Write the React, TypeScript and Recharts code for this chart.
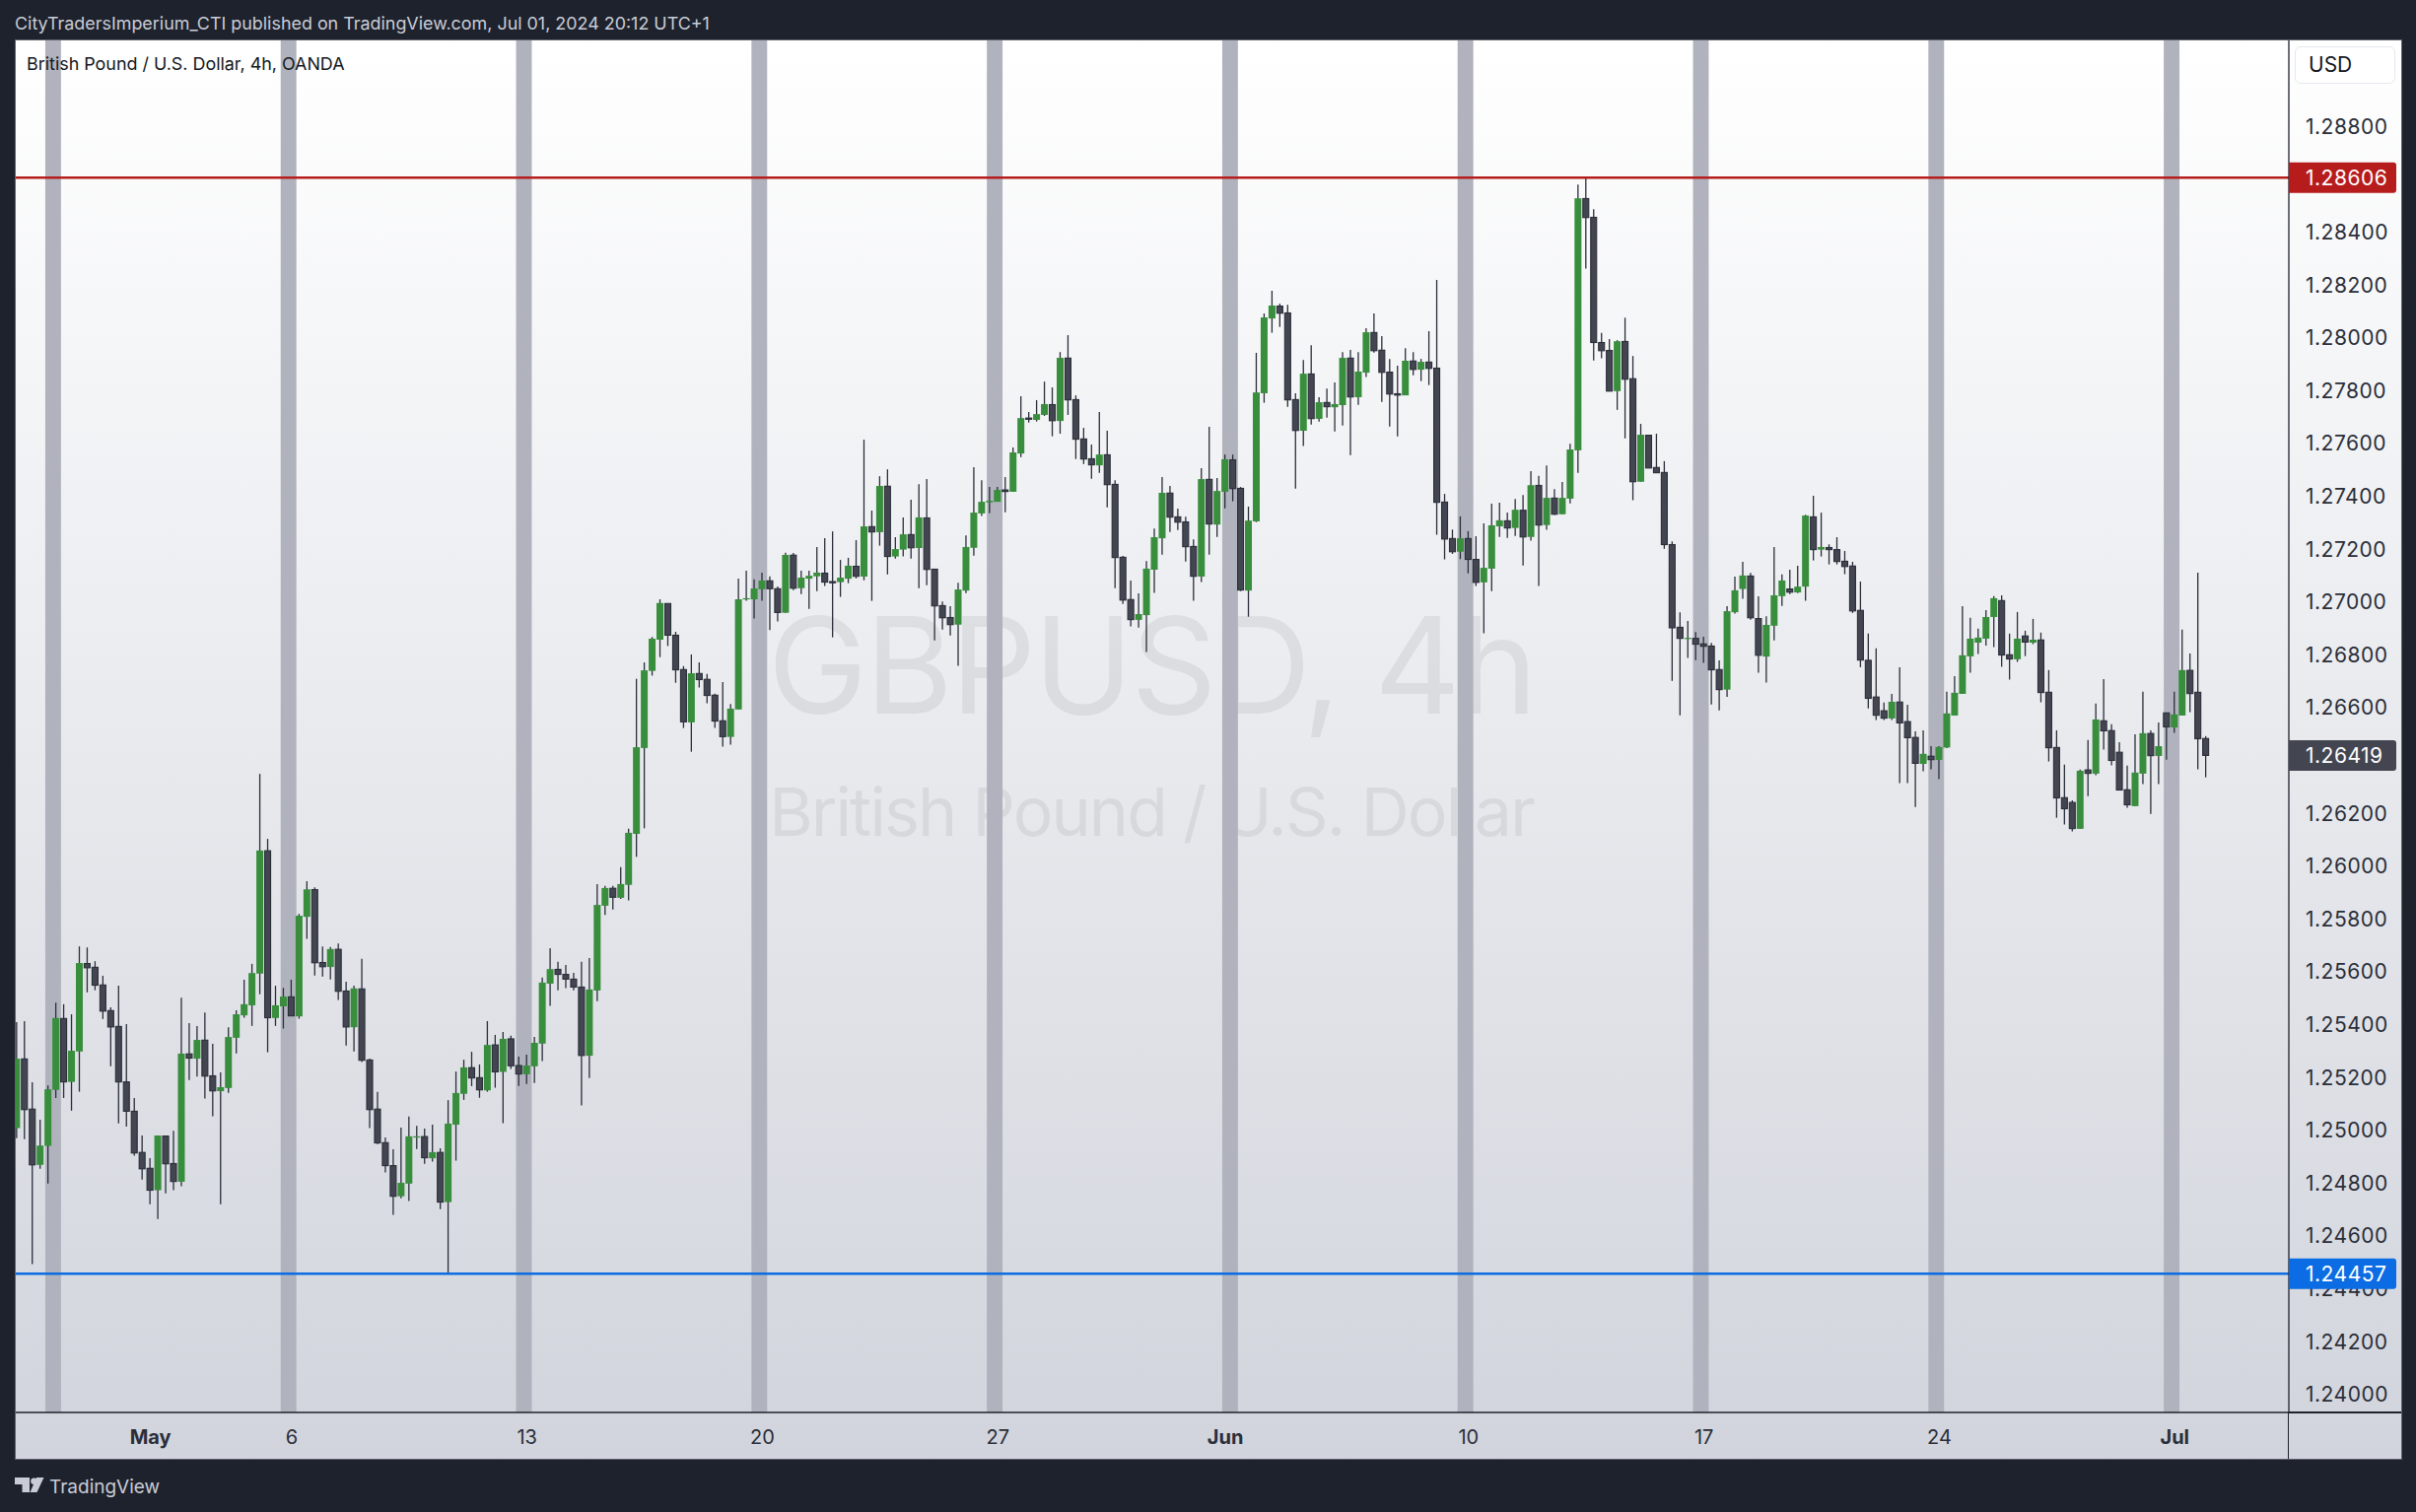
import React from 'react';
import { Bar, ComposedChart, ReferenceArea, ReferenceLine, XAxis, YAxis } from 'recharts';

// GBPUSD 4h candles, prices in 1e-5 units
const opens = [
  125008, 125270, 125080, 124869, 124941, 125153, 125423, 125183, 125298, 125631,
  125617, 125550, 125453, 125393, 125183, 125072, 124916, 124856, 124773, 124978,
  124874, 124805, 125289, 125271, 125341, 125206, 125148, 125160, 125350, 125435,
  125473, 125593, 126058, 125425, 125469, 125505, 125431, 125808, 125911, 125635,
  125618, 125685, 125527, 125390, 125535, 125266, 125080, 124953, 124866, 124750,
  124798, 124973, 124976, 124894, 124916, 124728, 125021, 125138, 125237, 125199,
  125151, 125323, 125221, 125346, 125245, 125212, 125242, 125328, 125555, 125609,
  125590, 125572, 125542, 125282, 125529, 125850, 125916, 125880, 125929, 126122,
  126447, 126739, 126857, 126994, 126874, 126744, 126544, 126729, 126707, 126647,
  126550, 126489, 126593, 127010, 127010, 127048, 127080, 127050, 126959, 127177,
  127052, 127088, 127097, 127109, 127077, 127075, 127088, 127135, 127096, 127285,
  127264, 127438, 127172, 127198, 127255, 127204, 127318, 127124, 126986, 126941,
  126914, 127043, 127205, 127335, 127377, 127379, 127424, 127417, 127562, 127696,
  127689, 127708, 127747, 127685, 127923, 127766, 127617, 127542, 127517, 127557,
  127445, 127169, 127009, 126932, 126950, 127122, 127241, 127412, 127322, 127303,
  127210, 127096, 127464, 127293, 127417, 127538, 127430, 127043, 127305, 127790,
  128073, 128120, 128094, 127766, 127648, 127863, 127693, 127755, 127737, 127745,
  127923, 127775, 127868, 128020, 127953, 127870, 127788, 127782, 127912, 127879,
  127908, 127885, 127378, 127240, 127190, 127240, 127161, 127074, 127126, 127286,
  127307, 127280, 127347, 127246, 127441, 127291, 127393, 127332, 127391, 127574,
  128527, 128456, 127982, 127952, 127798, 127986, 127845, 127455, 127631, 127509,
  127490, 127217, 126904, 126861, 126862, 126841, 126833, 126744, 126668, 126961,
  127049, 127098, 126937, 126793, 126910, 127022, 127049, 127036, 127058, 127322,
  127198, 127206, 127198, 127154, 127136, 126968, 126779, 126640, 126588, 126559,
  126621, 126547, 126487, 126387, 126416, 126402, 126449, 126570, 126652, 126794,
  126846, 126861, 126943, 127005, 126800, 126783, 126871, 126846, 126856, 126658,
  126449, 126259, 126241, 126141, 126364, 126350, 126550, 126513, 126431, 126289,
  126227, 126350, 126502, 126417, 126580, 126525, 126570, 126741, 126658, 126483,
];

const closes = [
  125271, 125078, 124869, 124942, 125155, 125425, 125183, 125301, 125633, 125615,
  125549, 125451, 125391, 125183, 125072, 124914, 124854, 124773, 124980, 124873,
  124806, 125290, 125273, 125342, 125205, 125149, 125163, 125353, 125439, 125477,
  125595, 126059, 125426, 125473, 125506, 125433, 125812, 125912, 125634, 125619,
  125686, 125526, 125391, 125537, 125265, 125078, 124952, 124866, 124750, 124801,
  124977, 124977, 124896, 124917, 124728, 125025, 125141, 125238, 125198, 125153,
  125323, 125221, 125346, 125244, 125213, 125245, 125331, 125559, 125610, 125590,
  125572, 125542, 125283, 125533, 125853, 125917, 125882, 125932, 126126, 126450,
  126741, 126861, 126996, 126874, 126743, 126546, 126730, 126706, 126646, 126549,
  126490, 126596, 127010, 127014, 127051, 127081, 127050, 126960, 127178, 127052,
  127092, 127099, 127111, 127075, 127075, 127092, 127137, 127097, 127286, 127265,
  127439, 127172, 127200, 127256, 127205, 127320, 127123, 126985, 126940, 126914,
  127047, 127208, 127338, 127379, 127383, 127424, 127418, 127566, 127696, 127694,
  127711, 127749, 127686, 127924, 127765, 127616, 127541, 127519, 127558, 127444,
  127168, 127007, 126933, 126954, 127126, 127245, 127413, 127321, 127302, 127209,
  127097, 127465, 127295, 127420, 127540, 127429, 127045, 127308, 127793, 128077,
  128122, 128093, 127765, 127649, 127864, 127694, 127756, 127739, 127749, 127924,
  127776, 127872, 128021, 127951, 127869, 127787, 127783, 127913, 127880, 127909,
  127884, 127377, 127238, 127190, 127241, 127161, 127074, 127129, 127290, 127309,
  127280, 127349, 127246, 127442, 127291, 127394, 127332, 127394, 127577, 128528,
  128455, 127982, 127951, 127798, 127987, 127843, 127455, 127633, 127507, 127489,
  127217, 126902, 126862, 126864, 126840, 126832, 126743, 126668, 126965, 127044,
  127100, 126940, 126798, 126913, 127025, 127081, 127037, 127058, 127327, 127198,
  127208, 127198, 127153, 127134, 126966, 126780, 126635, 126571, 126560, 126622,
  126542, 126486, 126389, 126425, 126403, 126451, 126578, 126656, 126798, 126861,
  126865, 126943, 127014, 126799, 126784, 126861, 126848, 126857, 126657, 126448,
  126258, 126217, 126142, 126361, 126351, 126555, 126512, 126400, 126288, 126232,
  126354, 126503, 126418, 126454, 126527, 126574, 126742, 126653, 126482, 126419,
];

const highs = [
  125409, 125413, 125182, 125040, 125170, 125483, 125477, 125439, 125696, 125692,
  125640, 125585, 125465, 125547, 125402, 125122, 124980, 124894, 124980, 124978,
  124998, 125502, 125406, 125394, 125446, 125327, 125219, 125390, 125454, 125570,
  125630, 126349, 126103, 125547, 125539, 125570, 125819, 125943, 125920, 125696,
  125694, 125707, 125562, 125547, 125649, 125271, 125145, 124973, 124928, 125010,
  125052, 125017, 125006, 125021, 124932, 125114, 125222, 125267, 125297, 125249,
  125413, 125361, 125372, 125358, 125279, 125286, 125353, 125578, 125689, 125638,
  125626, 125596, 125638, 125652, 125932, 125925, 125925, 125996, 126142, 126709,
  126771, 126867, 127010, 126994, 126887, 126757, 126801, 126771, 126727, 126653,
  126697, 126614, 127088, 127118, 127086, 127111, 127097, 127059, 127186, 127185,
  127118, 127118, 127208, 127241, 127267, 127159, 127167, 127234, 127614, 127346,
  127476, 127502, 127245, 127320, 127387, 127446, 127465, 127124, 127002, 126984,
  127073, 127252, 127510, 127461, 127435, 127435, 127473, 127585, 127779, 127719,
  127764, 127834, 127812, 127946, 128010, 127782, 127659, 127596, 127719, 127648,
  127461, 127174, 127081, 127032, 127155, 127278, 127473, 127439, 127353, 127323,
  127237, 127506, 127663, 127469, 127558, 127558, 127435, 127361, 127943, 128092,
  128178, 128129, 128125, 127790, 127916, 127972, 127775, 127808, 127831, 127946,
  127954, 127946, 128036, 128092, 128006, 127920, 127894, 127961, 127946, 127920,
  128025, 128219, 127409, 127274, 127324, 127268, 127249, 127297, 127372, 127376,
  127338, 127390, 127405, 127495, 127477, 127517, 127427, 127454, 127599, 128580,
  128608, 128487, 128018, 127995, 127991, 128076, 127931, 127674, 127631, 127637,
  127533, 127229, 126961, 126928, 126886, 126868, 126845, 126779, 126984, 127096,
  127152, 127110, 127021, 126946, 127208, 127104, 127122, 127137, 127330, 127402,
  127338, 127218, 127245, 127193, 127152, 127077, 126880, 126824, 126619, 126652,
  126753, 126611, 126510, 126514, 126454, 126454, 126660, 126719, 126984, 126940,
  126899, 126969, 127022, 127025, 126880, 126962, 126891, 126936, 126884, 126742,
  126514, 126384, 126249, 126365, 126477, 126615, 126708, 126537, 126469, 126380,
  126499, 126660, 126514, 126544, 126580, 126660, 126895, 126805, 127111, 126492,
];

const lows = [
  124970, 124966, 124493, 124854, 124798, 125122, 125122, 125074, 125146, 125522,
  125530, 125421, 125242, 125026, 125014, 124904, 124813, 124720, 124664, 124761,
  124773, 124788, 125190, 125203, 125120, 125053, 124720, 125142, 125291, 125426,
  125395, 125515, 125295, 125395, 125385, 125433, 125422, 125725, 125586, 125582,
  125571, 125493, 125321, 125298, 125258, 125008, 124948, 124840, 124680, 124742,
  124732, 124929, 124873, 124881, 124701, 124456, 124885, 125115, 125167, 125123,
  125146, 125161, 125027, 125232, 125168, 125175, 125179, 125262, 125471, 125530,
  125538, 125530, 125094, 125198, 125489, 125815, 125836, 125876, 125870, 126035,
  126143, 126721, 126791, 126833, 126694, 126523, 126433, 126676, 126616, 126523,
  126452, 126460, 126593, 127004, 126937, 127004, 126893, 126926, 126959, 127045,
  127030, 126974, 127041, 127060, 126866, 127019, 127071, 127089, 127082, 127004,
  127213, 127104, 127164, 127172, 127164, 127052, 127063, 126854, 126895, 126873,
  126758, 127033, 127175, 127325, 127336, 127379, 127339, 127417, 127548, 127679,
  127683, 127704, 127627, 127637, 127708, 127541, 127522, 127466, 127489, 127358,
  127052, 126992, 126907, 126903, 126810, 127034, 127179, 127265, 127272, 127153,
  127004, 127075, 127179, 127246, 127354, 127381, 127041, 126944, 127302, 127754,
  128019, 128041, 127739, 127429, 127590, 127671, 127683, 127698, 127645, 127668,
  127556, 127746, 127851, 127944, 127757, 127664, 127627, 127782, 127858, 127836,
  127821, 127254, 127161, 127182, 127162, 127108, 127060, 126881, 127041, 127246,
  127242, 127250, 127138, 127232, 127060, 127273, 127329, 127332, 127373, 127489,
  128262, 127914, 127922, 127798, 127727, 127619, 127385, 127455, 127507, 127489,
  127201, 126701, 126571, 126788, 126780, 126769, 126612, 126589, 126641, 126956,
  127012, 126933, 126732, 126695, 126854, 126985, 127030, 127033, 127004, 127157,
  127172, 127142, 127142, 127105, 126958, 126753, 126597, 126553, 126553, 126553,
  126314, 126314, 126224, 126359, 126366, 126329, 126447, 126570, 126652, 126732,
  126803, 126835, 126829, 126754, 126706, 126773, 126795, 126840, 126620, 126396,
  126183, 126157, 126131, 126141, 126265, 126344, 126441, 126381, 126288, 126221,
  126227, 126310, 126198, 126310, 126403, 126504, 126570, 126583, 126366, 126336,
];

const yTicks = [
  1.24, 1.242, 1.244, 1.246, 1.248, 1.25, 1.252, 1.254, 1.256, 1.258, 1.26, 1.262, 1.266,
  1.268, 1.27, 1.272, 1.274, 1.276, 1.278, 1.28, 1.282, 1.284, 1.288,
];
const priceTags = [1.26419, 1.28606, 1.24457];
const tagColors = ['#434651', '#b71c1c', '#0b6ce3'];

const xTickBars = [17, 35, 65, 95, 125, 154, 185, 215, 245, 275];
const xTickLabels = ['May', '6', '13', '20', '27', 'Jun', '10', '17', '24', 'Jul'];
const monthLabels = ['May', 'Jun', 'Jul'];

// the grey bars sit on the first bars of each trading week
const weekStartBars = [3.6, 33.6, 63.6, 93.6, 123.6, 153.6, 183.6, 213.6, 243.6, 273.6];
const weekBandBars = 2;

const candles = opens.map((open, i) => ({
  bar: i,
  open: open / 100000,
  close: closes[i] / 100000,
  high: highs[i] / 100000,
  low: lows[i] / 100000,
  range: [lows[i] / 100000, highs[i] / 100000],
}));

const font = 'Inter, "Noto Sans", sans-serif';

function Candle(props: any) {
  const { x, y, width, height, payload } = props;
  const span = payload.high - payload.low;
  const toY = (p: number) => y + ((payload.high - p) / span) * height;
  const up = payload.close >= payload.open;
  const top = toY(Math.max(payload.open, payload.close));
  const bottom = toY(Math.min(payload.open, payload.close));
  const mid = x + width / 2;
  return (
    <g>
      <line x1={mid} x2={mid} y1={y} y2={y + height} stroke="#2a2e39" strokeWidth={1.3} />
      {up ? (
        <rect x={x} y={top} width={width} height={Math.max(bottom - top, 1.2)} fill="#388e3c" />
      ) : (
        <rect
          x={x + 0.5}
          y={top}
          width={width - 1}
          height={Math.max(bottom - top, 1.2)}
          fill="#434651"
          stroke="#2a2e39"
          strokeWidth={1.1}
        />
      )}
    </g>
  );
}

function PriceTick({ x, y, payload }: any) {
  const tag = priceTags.indexOf(payload.value);
  const label = payload.value.toFixed(5);
  if (tag < 0) {
    return (
      <text x={x} y={y + 7.5} fontFamily={font} fontSize={21} letterSpacing={0.5} fill="#2a2e39">
        {label}
      </text>
    );
  }
  return (
    <g>
      <path
        d={`M${x - 17} ${y - 15.5} h106 a3 3 0 0 1 3 3 v25 a3 3 0 0 1 -3 3 h-106 z`}
        fill={tagColors[tag]}
      />
      <text x={x} y={y + 7.5} fontFamily={font} fontSize={21} letterSpacing={0.5} fill="#ffffff">
        {label}
      </text>
    </g>
  );
}

function DateTick({ x, y, payload }: any) {
  const label = xTickLabels[xTickBars.indexOf(payload.value)];
  return (
    <text
      x={x}
      y={y + 1}
      textAnchor="middle"
      fontFamily={font}
      fontSize={20}
      fontWeight={monthLabels.includes(label) ? 700 : 400}
      fill="#2a2e39"
    >
      {label}
    </text>
  );
}

const overlayText: React.CSSProperties = {
  position: 'absolute',
  fontFamily: font,
  whiteSpace: 'nowrap',
};

export default function App() {
  return (
    <div
      style={{
        position: 'absolute',
        left: 0,
        top: 0,
        width: 2451,
        height: 1534,
        overflow: 'hidden',
        background: '#1e222d',
      }}
    >
      <div style={{ ...overlayText, left: 15, top: 12.5, fontSize: 17.9, color: '#c9ccd6' }}>
        CityTradersImperium_CTI published on TradingView.com, Jul 01, 2024 20:12 UTC+1
      </div>

      <div
        style={{
          position: 'absolute',
          left: 15,
          top: 40,
          width: 2420,
          height: 1439,
          border: '1px solid #60636e',
          background: 'linear-gradient(#ffffff, #d1d4dc)',
        }}
      />

      <div
        style={{
          ...overlayText,
          left: 0,
          width: 2336,
          textAlign: 'center',
          top: 588,
          fontSize: 136,
          letterSpacing: -2.5,
          lineHeight: '174px',
          color: 'rgba(42,46,57,0.08)',
        }}
      >
        GBPUSD, 4h
      </div>
      <div
        style={{
          ...overlayText,
          left: 0,
          width: 2336,
          textAlign: 'center',
          top: 780,
          fontSize: 68,
          letterSpacing: -1.9,
          lineHeight: '87px',
          color: 'rgba(42,46,57,0.08)',
        }}
      >
        British Pound / U.S. Dollar
      </div>

      <div style={{ position: 'absolute', left: 0, top: 0 }}>
        <ComposedChart
          width={2451}
          height={1534}
          data={candles}
          barSize={7}
          margin={{ top: 41, right: 15, bottom: 54, left: 16 }}
        >
          <XAxis
            dataKey="bar"
            type="number"
            domain={[-0.163, 289.54]}
            allowDataOverflow
            ticks={xTickBars}
            interval={0}
            height={47}
            tick={<DateTick />}
            tickSize={0}
            tickMargin={31}
            axisLine={{ stroke: '#1e222d', strokeWidth: 1.3 }}
            tickLine={false}
          />
          <YAxis
            orientation="right"
            type="number"
            width={114}
            domain={[1.239317, 1.291257]}
            allowDataOverflow
            ticks={[...yTicks, ...priceTags]}
            interval={0}
            tick={<PriceTick />}
            tickSize={0}
            tickMargin={17}
            axisLine={{ stroke: '#1e222d', strokeWidth: 1.3 }}
            tickLine={false}
          />
          {weekStartBars.map((start) => (
            <ReferenceArea
              key={start}
              x1={start}
              x2={start + weekBandBars}
              fill="#b0b3bd"
              fillOpacity={1}
              stroke="none"
            />
          ))}
          <Bar dataKey="range" shape={<Candle />} isAnimationActive={false} />
          <ReferenceLine y={priceTags[1]} stroke={tagColors[1]} strokeWidth={2.4} />
          <ReferenceLine y={priceTags[2]} stroke={tagColors[2]} strokeWidth={2.4} />
        </ComposedChart>
      </div>

      <div style={{ ...overlayText, left: 27, top: 54, fontSize: 17.9, color: '#131722' }}>
        British Pound / U.S. Dollar, 4h, OANDA
      </div>

      <div
        style={{
          ...overlayText,
          left: 2328,
          top: 47,
          width: 102,
          height: 38,
          boxSizing: 'border-box',
          border: '1px solid #e6e8ef',
          borderRadius: 6,
          background: '#ffffff',
          fontSize: 21,
          lineHeight: '36px',
          paddingLeft: 13,
          color: '#131722',
        }}
      >
        USD
      </div>

      {/* the axis lines run on through the scale strips */}
      <div style={{ position: 'absolute', left: 2321, top: 1433, width: 1.3, height: 47, background: '#1e222d' }} />
      <div style={{ position: 'absolute', left: 2322, top: 1432.4, width: 114, height: 1.3, background: '#1e222d' }} />

      <svg style={{ position: 'absolute', left: 15, top: 1498 }} width={30} height={18}>
        <path d="M0 1 H15 V16 H7.5 V8 H0 Z" fill="#c9ccd6" />
        <circle cx={19.5} cy={4.7} r={3.3} fill="#c9ccd6" />
        <path d="M22 1 H29.5 L22.5 16 H15.5 Z" fill="#c9ccd6" />
      </svg>
      <div style={{ ...overlayText, left: 50, top: 1497, fontSize: 19, color: '#c9ccd6' }}>TradingView</div>
    </div>
  );
}
